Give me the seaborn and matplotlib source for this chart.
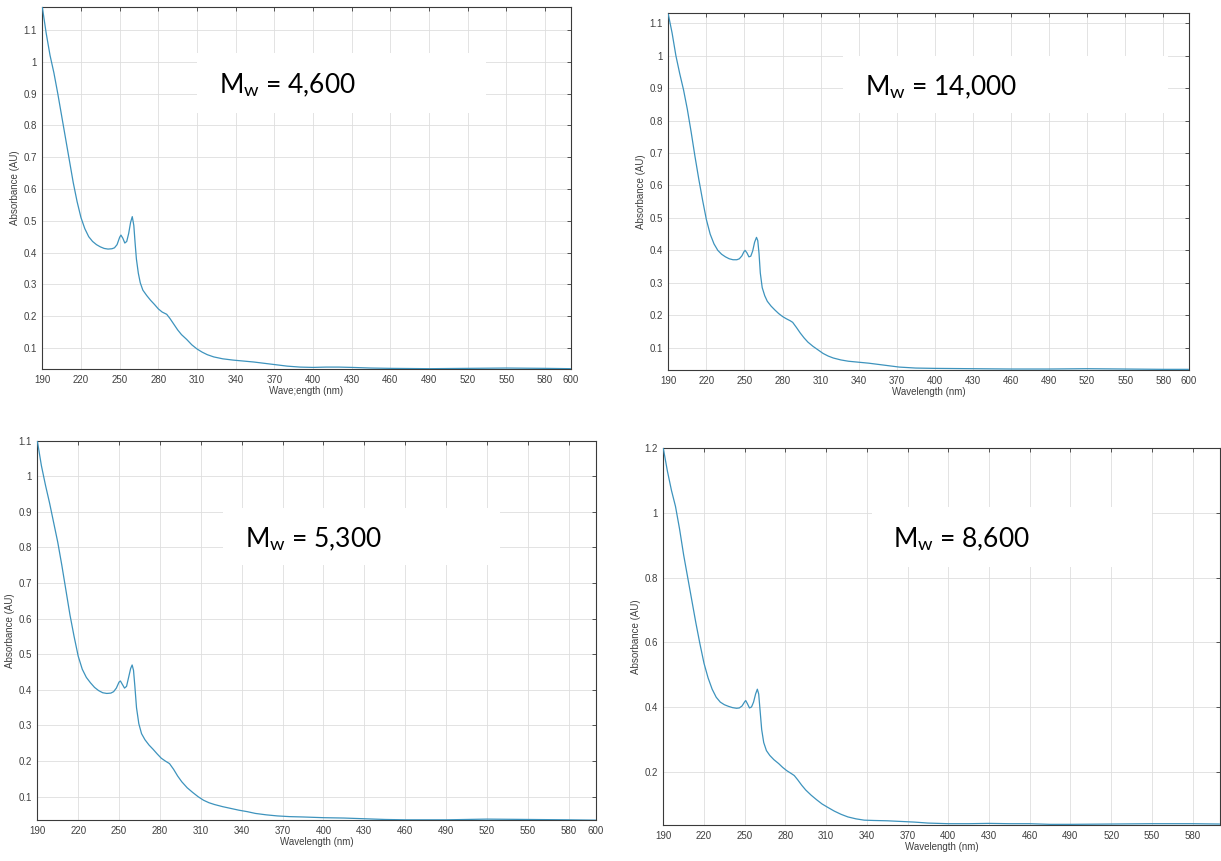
import seaborn as sns
import matplotlib.pyplot as plt
from matplotlib.patches import Rectangle
from matplotlib.ticker import FuncFormatter

# wavelength (nm) / absorbance (AU)
wl_4600 = [190, 193, 196, 199, 202, 205, 208, 211, 214, 217, 220, 223, 226, 229, 232, 235, 238,
           241, 244, 246, 248, 250, 251, 252.5, 254, 255.5, 257, 258.5, 259.8, 261, 262, 263,
           264.5, 266, 268, 271, 274, 277, 280, 283, 286.5, 289, 292, 295, 298, 302, 306, 310,
           314, 318, 323, 330, 338, 346, 354, 362, 370, 380, 390, 400, 410, 420, 430, 445, 460,
           490, 520, 550, 580, 600]
ab_4600 = [1.172, 1.09, 1.02, 0.965, 0.9, 0.83, 0.76, 0.69, 0.62, 0.56, 0.51, 0.475, 0.45, 0.435,
           0.425, 0.418, 0.413, 0.411, 0.412, 0.415, 0.425, 0.448, 0.455, 0.445, 0.43, 0.435, 0.46,
           0.495, 0.513, 0.485, 0.43, 0.38, 0.335, 0.305, 0.282, 0.265, 0.25, 0.237, 0.223, 0.213,
           0.206, 0.193, 0.175, 0.157, 0.142, 0.127, 0.11, 0.097, 0.087, 0.079, 0.072, 0.066, 0.062,
           0.059, 0.056, 0.052, 0.048, 0.043, 0.04, 0.039, 0.04, 0.04, 0.039, 0.037, 0.036, 0.035,
           0.036, 0.037, 0.036, 0.035]

wl_14000 = [190, 193, 196, 199, 202, 205, 208, 211, 214, 217, 220, 223, 226, 229, 232, 235, 238,
            241, 244, 246, 248, 249.5, 250.5, 252, 253.5, 255, 256.5, 258, 259.5, 260.5, 261.5,
            262.5, 264, 266, 268, 271, 274, 277, 280, 283, 286, 288, 291, 294, 297, 300, 304, 308,
            312, 316, 320, 326, 332, 340, 348, 356, 364, 372, 385, 400, 430, 460, 490, 520, 550,
            580, 600]
ab_14000 = [1.128, 1.07, 1.0, 0.945, 0.895, 0.835, 0.765, 0.69, 0.62, 0.555, 0.495, 0.45, 0.42,
            0.4, 0.388, 0.38, 0.374, 0.371, 0.371, 0.374, 0.383, 0.395, 0.4, 0.392, 0.38, 0.382,
            0.398, 0.425, 0.44, 0.43, 0.39, 0.33, 0.285, 0.26, 0.243, 0.228, 0.216, 0.205, 0.196,
            0.189, 0.183, 0.178, 0.162, 0.145, 0.13, 0.117, 0.104, 0.093, 0.082, 0.074, 0.068,
            0.062, 0.058, 0.055, 0.052, 0.048, 0.044, 0.04, 0.037, 0.036, 0.035, 0.034, 0.034,
            0.035, 0.034, 0.033, 0.033]

wl_5300 = [190, 193, 196, 199, 202, 205, 208, 211, 214, 217, 220, 223, 226, 229, 232, 235, 238,
           241, 244, 246, 248, 250, 251, 252.5, 254, 255.5, 257, 258.5, 259.6, 260.6, 261.6, 262.8,
           264.5, 266.5, 269, 272, 275, 278, 281, 284, 287, 290, 293, 296, 300, 304, 308, 312, 316,
           320, 326, 332, 338, 344, 350, 358, 366, 375, 385, 400, 415, 430, 445, 460, 490, 520,
           550, 580, 600]
ab_5300 = [1.1, 1.03, 0.975, 0.925, 0.87, 0.815, 0.75, 0.68, 0.61, 0.55, 0.495, 0.458, 0.435,
           0.42, 0.407, 0.398, 0.392, 0.39, 0.391, 0.395, 0.405, 0.422, 0.425, 0.415, 0.405, 0.41,
           0.435, 0.46, 0.47, 0.455, 0.41, 0.35, 0.305, 0.277, 0.26, 0.245, 0.233, 0.22, 0.208,
           0.2, 0.193, 0.177, 0.158, 0.142, 0.125, 0.112, 0.1, 0.09, 0.083, 0.078, 0.072, 0.067,
           0.062, 0.058, 0.053, 0.049, 0.046, 0.044, 0.043, 0.041, 0.04, 0.038, 0.036, 0.035,
           0.035, 0.037, 0.036, 0.035, 0.034]

wl_8600 = [190, 193, 196, 199, 202, 205, 208, 211, 214, 217, 220, 223, 226, 229, 232, 235, 238,
           241, 244, 246, 248, 249.8, 250.7, 252, 253.5, 255, 256.5, 258, 259.3, 260.3, 261.3,
           262.5, 264, 266, 268.5, 271.5, 275, 278, 281, 284, 286.5, 289, 292, 295, 299, 303, 307,
           311, 316, 321, 326, 332, 338, 345, 355, 365, 375, 385, 400, 415, 430, 445, 460, 475,
           490, 520, 550, 580, 600]
ab_8600 = [1.2, 1.13, 1.07, 1.02, 0.95, 0.87, 0.8, 0.73, 0.66, 0.595, 0.535, 0.49, 0.455, 0.43,
           0.415, 0.407, 0.402, 0.398, 0.396, 0.397, 0.403, 0.415, 0.42, 0.41, 0.397, 0.4, 0.415,
           0.44, 0.455, 0.44, 0.39, 0.33, 0.29, 0.265, 0.25, 0.237, 0.225, 0.213, 0.203, 0.195,
           0.188, 0.175, 0.158, 0.143, 0.127, 0.113, 0.1, 0.09, 0.078, 0.068, 0.06, 0.054, 0.05,
           0.049, 0.048, 0.046, 0.044, 0.041, 0.039, 0.039, 0.04, 0.039, 0.039, 0.037, 0.037,
           0.038, 0.039, 0.039, 0.038]

labels = ['M$_{\\mathrm{w}}$ = 4,600', 'M$_{\\mathrm{w}}$ = 14,000',
          'M$_{\\mathrm{w}}$ = 5,300', 'M$_{\\mathrm{w}}$ = 8,600']
xlabels = ['Wave;ength (nm)', 'Wavelength (nm)', 'Wavelength (nm)', 'Wavelength (nm)']
xticks = [190, 220, 250, 280, 310, 340, 370, 400, 430, 460, 490, 520, 550, 580, 600]
yticks_a = [0.1, 0.2, 0.3, 0.4, 0.5, 0.6, 0.7, 0.8, 0.9, 1.0, 1.1]
yticks_b = [0.2, 0.4, 0.6, 0.8, 1.0, 1.2]

sns.set_theme(style='whitegrid')
plt.rcParams['font.family'] = ['Liberation Sans', 'DejaVu Sans']
plt.rcParams['mathtext.fontset'] = 'custom'
plt.rcParams['mathtext.rm'] = 'Lato'
plt.rcParams['mathtext.it'] = 'Lato:italic'

W, H = 1221, 861
fig = plt.figure(figsize=(W / 100, H / 100), dpi=100)

def rect(l, r, t, b):
    return [l / W, (H - b) / H, (r - l) / W, (b - t) / H]

panels = [
    dict(wl=wl_4600, ab=ab_4600, pos=rect(42.3, 570.8, 7, 369), ylim=(0.034, 1.172), yt=yticks_a,
         xt=xticks, box=(197, 486, 53, 113), txt=(219, 93)),
    dict(wl=wl_14000, ab=ab_14000, pos=rect(668.3, 1188.6, 13.3, 370), ylim=(0.031, 1.131), yt=yticks_a,
         xt=xticks, box=(843, 1168, 56, 113), txt=(865, 95)),
    dict(wl=wl_5300, ab=ab_5300, pos=rect(37.3, 596, 440.7, 820), ylim=(0.0345, 1.1), yt=yticks_a,
         xt=xticks, box=(223, 500, 508, 565), txt=(245, 547)),
    dict(wl=wl_8600, ab=ab_8600, pos=rect(663.3, 1219.7, 448.3, 825), ylim=(0.035, 1.2), yt=yticks_b,
         xt=xticks[:-1], box=(872, 1152, 507, 567), txt=(893, 547)),
]

for i, p in enumerate(panels):
    ax = fig.add_axes(p['pos'])
    ax.set_axisbelow(True)
    sns.lineplot(x=p['wl'], y=p['ab'], ax=ax, color='#3d93bd', linewidth=0.9,
                 sort=False, estimator=None, zorder=3)
    ax.set_xlim(190, 600)
    ax.set_ylim(*p['ylim'])
    ax.set_xticks(p['xt'])
    ax.set_yticks(p['yt'])
    ax.yaxis.set_major_formatter(FuncFormatter(lambda v, _: '%g' % v))
    ax.grid(True, color='#dedede', linewidth=0.6)
    for s in ax.spines.values():
        s.set_visible(True)
        s.set_color('#3a3a3a')
        s.set_linewidth(0.8)
    ax.tick_params(direction='in', length=3, width=0.6, color='#3a3a3a', labelsize=7,
                   labelcolor='#404040', top=True, right=True, pad=4)
    ax.set_xlabel(xlabels[i], fontsize=7, color='#404040', labelpad=1)
    ax.set_ylabel('Absorbance (AU)', fontsize=7, color='#404040', labelpad=2)
    l, r, t, b = p['box']
    ax.add_patch(Rectangle((l / W, (H - b) / H), (r - l) / W, (b - t) / H,
                           transform=fig.transFigure, facecolor='white', edgecolor='none', zorder=1))
    tx, ty = p['txt']
    fig.text(tx / W, (H - ty) / H, labels[i], fontsize=19, family='Lato', color='black',
             ha='left', va='baseline')

fig.savefig('out.png', dpi=100)
